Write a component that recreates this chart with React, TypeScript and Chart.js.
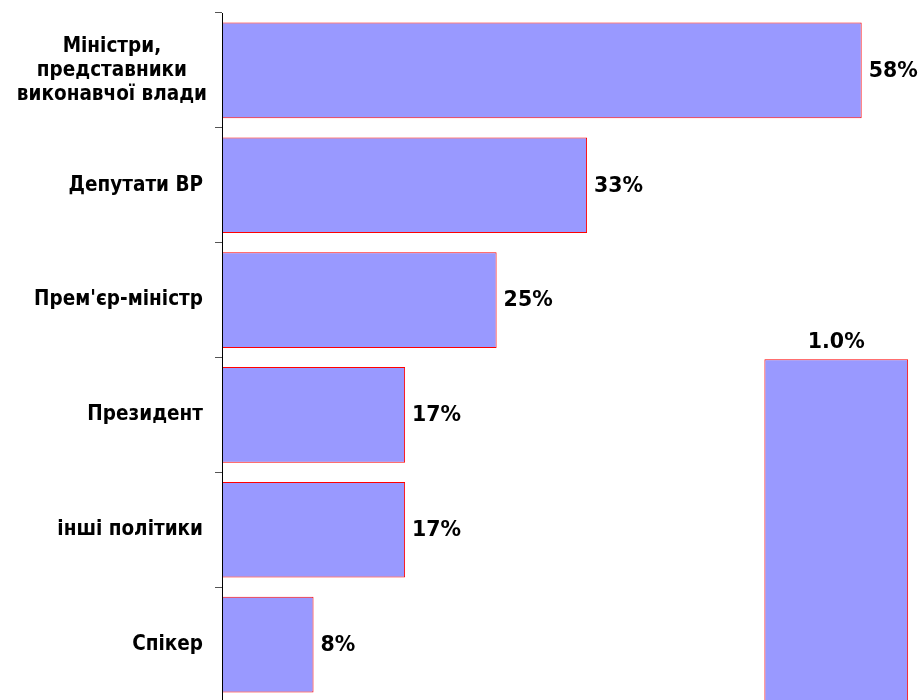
import React, { useEffect, useRef } from 'react';
import { Chart, registerables } from 'chart.js';

Chart.register(...registerables);

// ---- data ----
const categories: (string | string[])[] = [
  ['Міністри,', 'представники', 'виконавчої влади'],
  'Депутати ВР',
  "Прем'єр-міністр",
  'Президент',
  'інші політики',
  'Спікер',
];
const values = [58.0, 33.1, 24.9, 16.6, 16.6, 8.3];

// second (stray) series drawn as a vertical bar on secondary axes
const extraCategories = ['', '', '', ''];
const extraValues: (number | null)[] = [null, null, null, 1.0];

const valueAxisMax = 63.65;
const extraAxisMax = 2.01;

const LABEL_FONT = '"DejaVu Sans Condensed", "DejaVu Sans", sans-serif';
const VALUE_FONT = '"DejaVu Sans", sans-serif';
const FILL = '#9999FF';
const EDGE = '#FF0000';

// centre the lines of multi-line category labels (like the original)
const centerMultiline = {
  id: 'centerMultiline',
  beforeDraw(chart: any) {
    const s = chart.scales.y;
    if (!s) return;
    const items = s.getLabelItems(chart.chartArea);
    const ctx = chart.ctx;
    items.forEach((it: any) => {
      if (Array.isArray(it.label)) {
        ctx.save();
        ctx.font = it.font.string;
        const w = Math.max(...it.label.map((l: string) => ctx.measureText(l).width));
        ctx.restore();
        it.options.textAlign = 'center';
        it.options.translation[0] = s.right - 15 - w / 2;
      }
    });
  },
};

const labelPlugin = {
  id: 'barLabels',
  afterDatasetsDraw(chart: any) {
    const ctx = chart.ctx;
    ctx.save();
    ctx.font = `bold 20.5px ${VALUE_FONT}`;
    ctx.fillStyle = '#000';
    const m0 = chart.getDatasetMeta(0);
    m0.data.forEach((el: any, i: number) => {
      const v = values[i];
      ctx.textAlign = 'left';
      ctx.textBaseline = 'middle';
      ctx.fillText(`${Math.round(v)}%`, el.x + 7, el.y + 1);
    });
    const m1 = chart.getDatasetMeta(1);
    m1.data.forEach((el: any, i: number) => {
      const v = extraValues[i];
      if (v == null) return;
      ctx.textAlign = 'center';
      ctx.textBaseline = 'alphabetic';
      ctx.fillText(`${v.toFixed(1)}%`, el.x, el.y - 11);
    });
    ctx.restore();
  },
};

export default function App() {
  const ref = useRef<HTMLCanvasElement | null>(null);

  useEffect(() => {
    if (!ref.current) return;
    const chart = new Chart(ref.current, {
      type: 'bar',
      data: {
        labels: categories,
        datasets: [
          {
            label: 'main',
            data: values,
            xAxisID: 'x',
            yAxisID: 'y',
            backgroundColor: FILL,
            borderColor: EDGE,
            borderWidth: 1,
            borderSkipped: false,
            categoryPercentage: 1,
            barPercentage: 0.833,
            grouped: false,
          } as any,
          {
            label: 'extra',
            data: extraValues,
            indexAxis: 'x',
            xAxisID: 'x2',
            yAxisID: 'y2',
            backgroundColor: FILL,
            borderColor: EDGE,
            borderWidth: 1,
            borderSkipped: false,
            categoryPercentage: 1,
            barPercentage: 0.819,
            grouped: false,
          } as any,
        ],
      },
      options: {
        indexAxis: 'y',
        animation: false,
        responsive: true,
        maintainAspectRatio: false,
        layout: { padding: { top: 13, bottom: 1, left: 0, right: 0 } },
        plugins: {
          legend: { display: false },
          tooltip: { enabled: false },
          title: { display: false },
        },
        scales: {
          x: {
            type: 'linear',
            axis: 'x',
            position: 'bottom',
            display: false,
            offset: false,
            min: 0,
            max: valueAxisMax,
          },
          y: {
            type: 'category',
            axis: 'y',
            position: 'left',
            offset: true,
            grid: {
              offset: true,
              drawOnChartArea: false,
              drawTicks: true,
              tickLength: 7,
              tickColor: '#555',
              color: '#555',
            },
            border: { display: true, color: '#000', width: 1, z: 1 },
            ticks: {
              color: '#000',
              padding: 12,
              autoSkip: false,
              font: { family: LABEL_FONT, size: 20.5, weight: 'bold', lineHeight: 1.17 },
            },
            afterFit: (s: any) => {
              s.width = 222;
              s.paddingTop = 0;
              s.paddingBottom = 0;
            },
          },
          x2: {
            type: 'category',
            axis: 'x',
            position: 'top',
            labels: extraCategories,
            offset: true,
            display: false,
            grid: { offset: true },
          },
          y2: {
            type: 'linear',
            axis: 'y',
            position: 'right',
            display: false,
            offset: false,
            min: 0,
            max: extraAxisMax,
          },
        } as any,
      },
      plugins: [centerMultiline, labelPlugin],
    } as any);
    return () => chart.destroy();
  }, []);

  return (
    <div style={{ position: 'fixed', left: 0, top: 0, width: 924, height: 703, background: '#fff' }}>
      <canvas ref={ref} />
    </div>
  );
}
